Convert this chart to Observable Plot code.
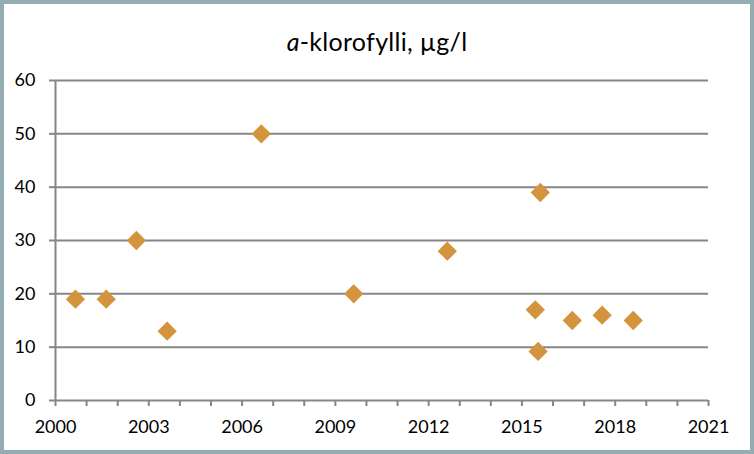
<!DOCTYPE html>
<html><head><meta charset="utf-8">
<script src="https://cdn.jsdelivr.net/npm/d3@7"></script>
<script src="https://cdn.jsdelivr.net/npm/@observablehq/plot@0.6"></script>
<style>
html,body{margin:0;padding:0;background:#fff;}
#frame{width:754px;height:454px;box-sizing:border-box;border:4px solid #93ADB2;background:#fff;font-family:Lato,sans-serif;overflow:hidden;}
#title{height:56px;box-sizing:border-box;padding-top:23px;line-height:28px;text-align:center;font-size:25px;letter-spacing:0.3px;color:#000;}
#chart svg{display:block;}
</style></head><body>
<div id="frame"><div id="title"><i>a</i>-klorofylli, µg/l</div><div id="chart"></div></div>
<script>
const years = [2000.64, 2001.63, 2002.6, 2003.59, 2006.62, 2009.59, 2012.6, 2015.43, 2015.52, 2015.59, 2016.62, 2017.58, 2018.58];
const values = [19, 19, 30, 13, 50, 20, 28, 17, 9.2, 39, 15, 16, 15];
const yTicks = [0, 10, 20, 30, 40, 50, 60];
const xLabels = [2000, 2003, 2006, 2009, 2012, 2015, 2018, 2021];
const xMinor = d3.range(2000, 2022);
const data = years.map((x, i) => ({x, y: values[i]}));
const grid = "#868686";
const chart = Plot.plot({
  width: 746, height: 390,
  marginTop: 20, marginBottom: 50, marginLeft: 51, marginRight: 42,
  x: {domain: [2000, 2021]},
  y: {domain: [0, 60]},
  style: {fontFamily: "Lato, sans-serif", fontSize: "18px", color: "#000", background: "#fff", overflow: "visible"},
  marks: [
    Plot.ruleY(yTicks.filter(d => d > 0), {stroke: grid, strokeWidth: 2}),
    Plot.ruleX([2000], {stroke: grid, strokeWidth: 2}),
    Plot.ruleY([0], {stroke: grid, strokeWidth: 2}),
    Plot.axisY({ticks: yTicks, tickSize: 6, tickPadding: 14, stroke: grid, strokeWidth: 2, strokeOpacity: 1, fill: "#000", label: null}),
    Plot.axisX({ticks: xMinor, tickSize: 6, tickFormat: () => "", stroke: grid, strokeWidth: 2, strokeOpacity: 1, label: null}),
    Plot.axisX({ticks: xLabels, tickSize: 0, tickPadding: 20, tickFormat: d => String(d), fill: "#000", label: null}),
    Plot.dot(data, {x: "x", y: "y", symbol: "diamond2", r: 8.7, fill: "#D4943E", stroke: "none"})
  ]
});
document.getElementById("chart").appendChild(chart);
</script>
</body></html>
